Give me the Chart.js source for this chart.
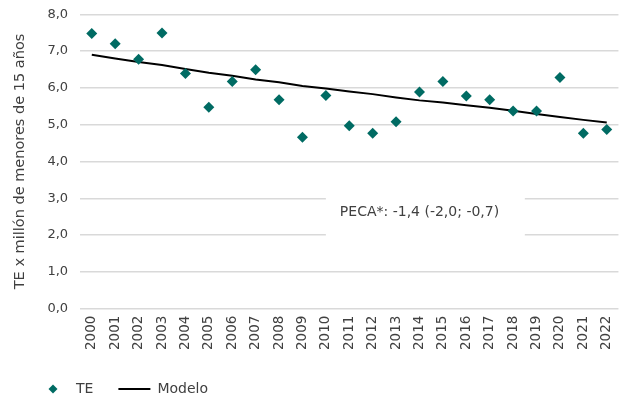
<!DOCTYPE html>
<html lang="es">
<head>
<meta charset="UTF-8">
<title>TE x millón de menores de 15 años</title>
<script src="https://cdn.jsdelivr.net/npm/chart.js"></script>
<style>
    html, body {
        margin: 0;
        padding: 0;
        background: #ffffff;
    }
    .wrap {
        width: 624px;
        height: 400px;
    }
</style>
</head>
<body>
<div class="wrap">
    <canvas id="chart" width="624" height="400"></canvas>
</div>
<script>
    // data
    const years = ['2000', '2001', '2002', '2003', '2004', '2005', '2006', '2007', '2008', '2009', '2010', '2011',
        '2012', '2013', '2014', '2015', '2016', '2017', '2018', '2019', '2020', '2021', '2022'];
    const teValues = [7.48, 7.20, 6.78, 7.49, 6.39, 5.47, 6.17, 6.49, 5.68, 4.66, 5.79, 4.97,
        4.77, 5.08, 5.89, 6.17, 5.78, 5.68, 5.37, 5.37, 6.28, 4.77, 4.87];
    const modelValues = [6.90, 6.80, 6.70, 6.62, 6.51, 6.41, 6.33, 6.23, 6.15, 6.05, 5.98, 5.90,
        5.83, 5.74, 5.66, 5.60, 5.53, 5.46, 5.38, 5.29, 5.21, 5.13, 5.06];
    const yTicks = [0, 1, 2, 3, 4, 5, 6, 7, 8];
    const pecaText = 'PECA*: -1,4 (-2,0; -0,7)';

    const teal = '#006b63';
    const textColor = '#404040';
    const fontFamily = '"DejaVu Sans", sans-serif';

    // small diamond for the legend (keeps its size when the legend box is wide)
    const diamond = document.createElement('canvas');
    diamond.width = 10;
    diamond.height = 10;
    const dctx = diamond.getContext('2d');
    dctx.fillStyle = teal;
    dctx.beginPath();
    dctx.moveTo(5, 0.5);
    dctx.lineTo(9.5, 5);
    dctx.lineTo(5, 9.5);
    dctx.lineTo(0.5, 5);
    dctx.closePath();
    dctx.fill();

    // white label box with the PECA text
    const pecaLabel = {
        id: 'pecaLabel',
        beforeDatasetsDraw(chart) {
            const { ctx, scales: { x, y } } = chart;
            const left = x.getPixelForValue(10);
            const right = x.getPixelForValue(18.5);
            const top = y.getPixelForValue(3.12);
            const bottom = y.getPixelForValue(1.9);
            ctx.save();
            ctx.fillStyle = '#ffffff';
            ctx.fillRect(left, top, right - left, bottom - top);
            ctx.fillStyle = textColor;
            ctx.font = '14px ' + fontFamily;
            ctx.textBaseline = 'middle';
            ctx.fillText(pecaText, left + 14, y.getPixelForValue(2.63));
            ctx.restore();
        }
    };

    new Chart(document.getElementById('chart'), {
        data: {
            labels: years,
            datasets: [
                {
                    type: 'line',
                    label: 'TE',
                    data: teValues,
                    showLine: false,
                    pointStyle: 'rectRot',
                    pointRadius: 5.5,
                    pointHoverRadius: 5.5,
                    pointBackgroundColor: teal,
                    pointBorderColor: teal,
                    pointBorderWidth: 0,
                    borderColor: teal,
                    backgroundColor: teal
                },
                {
                    type: 'line',
                    label: 'Modelo',
                    data: modelValues,
                    borderColor: '#000000',
                    backgroundColor: '#000000',
                    borderWidth: 2,
                    pointRadius: 0,
                    tension: 0,
                    fill: false
                }
            ]
        },
        options: {
            responsive: false,
            animation: false,
            layout: {
                padding: { left: 12, right: 0.5, top: 0, bottom: -6 }
            },
            plugins: {
                tooltip: { enabled: false },
                legend: {
                    position: 'bottom',
                    align: 'start',
                    labels: {
                        usePointStyle: true,
                        pointStyleWidth: 32,
                        padding: 25,
                        color: textColor,
                        font: { family: fontFamily, size: 14 },
                        generateLabels(chart) {
                            return chart.data.datasets.map((ds, i) => ({
                                text: ds.label,
                                datasetIndex: i,
                                fontColor: textColor,
                                fillStyle: ds.borderColor,
                                strokeStyle: ds.borderColor,
                                lineWidth: i === 0 ? 0 : 2,
                                pointStyle: i === 0 ? diamond : 'line',
                                hidden: false
                            }));
                        }
                    }
                }
            },
            scales: {
                x: {
                    offset: true,
                    grid: { display: false, drawTicks: false },
                    border: { display: false },
                    ticks: {
                        minRotation: 90,
                        maxRotation: 90,
                        autoSkip: false,
                        padding: 7,
                        color: textColor,
                        font: { family: fontFamily, size: 13.5, lineHeight: 0.75 }
                    }
                },
                y: {
                    min: 0,
                    max: 8,
                    afterBuildTicks(axis) {
                        axis.ticks = yTicks.map(v => ({ value: v }));
                    },
                    border: { display: false },
                    grid: {
                        color: '#d9d9d9',
                        lineWidth: 1.5,
                        drawTicks: false
                    },
                    ticks: {
                        padding: 12,
                        color: textColor,
                        font: { family: fontFamily, size: 13, lineHeight: 0.35 },
                        callback: value => value.toFixed(1).replace('.', ',')
                    },
                    title: {
                        display: true,
                        text: 'TE x millón de menores de 15 años',
                        color: textColor,
                        font: { family: fontFamily, size: 14.5 },
                        padding: { top: 0, bottom: 6 }
                    }
                }
            }
        },
        plugins: [pecaLabel]
    });
</script>
</body>
</html>
